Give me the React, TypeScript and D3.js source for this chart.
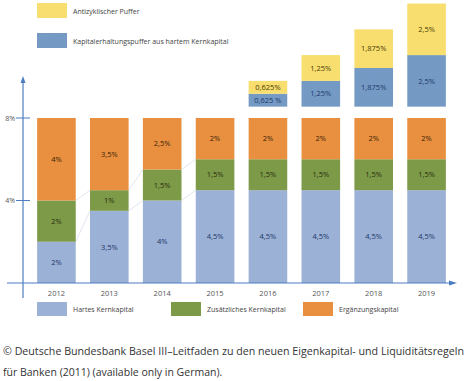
import React from "react";
import * as d3 from "d3";

const years = ["2012", "2013", "2014", "2015", "2016", "2017", "2018", "2019"];
const hartes = [2, 3.5, 4, 4.5, 4.5, 4.5, 4.5, 4.5];
const zusatz = [2, 1, 1.5, 1.5, 1.5, 1.5, 1.5, 1.5];
const ergaenzung = [4, 3.5, 2.5, 2, 2, 2, 2, 2];
const erhaltung = [0, 0, 0, 0, 0.625, 1.25, 1.875, 2.5];
const antizyklisch = [0, 0, 0, 0, 0.625, 1.25, 1.875, 2.5];
const hartesLabels = ["2%", "3,5%", "4%", "4,5%", "4,5%", "4,5%", "4,5%", "4,5%"];
const zusatzLabels = ["2%", "1%", "1,5%", "1,5%", "1,5%", "1,5%", "1,5%", "1,5%"];
const ergLabels = ["4%", "3,5%", "2,5%", "2%", "2%", "2%", "2%", "2%"];
const erhLabels = ["", "", "", "", "0,625 %", "1,25%", "1,875%", "2,5%"];
const antiLabels = ["", "", "", "", "0,625%", "1,25%", "1,875%", "2,5%"];
const yTicks = [4, 8];
const bufferBase = 8.55;

const C = {
  blue: "#9bb1d6",
  green: "#7c9a48",
  orange: "#e8903f",
  yellow: "#f8de6e",
  hatch: "#769cc6",
  axis: "#4d7dc1",
  text: "#333",
};

export default function App() {
  const x = d3.scaleBand<string>().domain(years).range([30, 453]).paddingInner(0.27).paddingOuter(0.135);
  const y = d3.scaleLinear().domain([0, 8]).range([283, 118]);
  const bw = x.bandwidth();
  const font = "'Open Sans', sans-serif";

  const segs: any[] = [];
  years.forEach((yr, i) => {
    const a = hartes[i], b = zusatz[i], c = ergaenzung[i];
    segs.push({ yr, y0: 0, y1: a, fill: C.blue, label: hartesLabels[i], tc: "#1d3767" });
    segs.push({ yr, y0: a, y1: a + b, fill: C.green, label: zusatzLabels[i], tc: "#2a2a10" });
    segs.push({ yr, y0: a + b, y1: a + b + c, fill: C.orange, label: ergLabels[i], tc: "#3a2208" });
    if (erhaltung[i] > 0) {
      segs.push({ yr, y0: bufferBase, y1: bufferBase + erhaltung[i], fill: "url(#hatch)", label: erhLabels[i], tc: "#1d3767" });
      segs.push({ yr, y0: bufferBase + erhaltung[i], y1: bufferBase + erhaltung[i] + antizyklisch[i], fill: C.yellow, label: antiLabels[i], tc: "#4a3a08" });
    }
  });

  const connectors: any[] = [];
  for (let i = 0; i < years.length - 1; i++) {
    const lv = [hartes[i], hartes[i] + zusatz[i]];
    const rv = [hartes[i + 1], hartes[i + 1] + zusatz[i + 1]];
    lv.forEach((v, k) => {
      if (v !== rv[k]) {
        connectors.push({ x1: x(years[i])! + bw, y1: y(v), x2: x(years[i + 1])!, y2: y(rv[k]) });
      }
    });
  }

  const topLegend = [
    { label: "Antizyklischer Puffer", fill: C.yellow, y: 3 },
    { label: "Kapitalerhaltungspuffer aus hartem Kernkapital", fill: "url(#hatch)", y: 33 },
  ];
  const bottomLegend = [
    { label: "Hartes Kernkapital", fill: C.blue, x: 37 },
    { label: "Zusätzliches Kernkapital", fill: C.green, x: 171 },
    { label: "Ergänzungskapital", fill: C.orange, x: 303 },
  ];

  return (
    <svg width={466} height={381} style={{ position: "absolute", left: 0, top: 0, background: "#fff" }}>
      <defs>
        <pattern id="hatch" patternUnits="userSpaceOnUse" width="2.5" height="2.5" patternTransform="rotate(45)">
          <rect width="2.5" height="2.5" fill={C.hatch} />
          <line x1="0" y1="0" x2="0" y2="2.5" stroke="#6a90bc" strokeWidth="0.8" />
        </pattern>
      </defs>
      {topLegend.map((l) => (
        <g key={l.label}>
          <rect x={37} y={l.y} width={30} height={15} fill={l.fill} />
          <text x={73} y={l.y + 10.5} fontSize={7} fill="#444" fontFamily={font}>{l.label}</text>
        </g>
      ))}
      {connectors.map((c, i) => (
        <line key={i} x1={c.x1} y1={c.y1} x2={c.x2} y2={c.y2} stroke="#d8dfea" strokeWidth={0.8} />
      ))}
      {segs.map((s, i) => (
        <g key={i}>
          <rect x={x(s.yr)} y={y(s.y1)} width={bw} height={y(s.y0) - y(s.y1)} fill={s.fill} />
          <text x={x(s.yr)! + bw / 2} y={(y(s.y0) + y(s.y1)) / 2 + 2.7} textAnchor="middle" fontSize={7.5} fill={s.tc} fontFamily={font}>{s.label}</text>
        </g>
      ))}
      <line x1={23} y1={80} x2={23} y2={298} stroke={C.axis} strokeWidth={1.2} />
      <path d="M23,76 L20.5,83 L25.5,83 Z" fill={C.axis} />
      <line x1={7} y1={y(0)} x2={450} y2={y(0)} stroke={C.axis} strokeWidth={1.2} />
      <path d="M457,283 L449,280.5 L449,285.5 Z" fill={C.axis} />
      {yTicks.map((t) => (
        <g key={t}>
          <line x1={16} x2={30} y1={y(t)} y2={y(t)} stroke={C.axis} strokeWidth={1} />
          <text x={15} y={y(t) + 2.5} textAnchor="end" fontSize={7} fill="#555" fontFamily={font}>{t}%</text>
        </g>
      ))}
      {years.map((yr) => (
        <text key={yr} x={x(yr)! + bw / 2} y={296} textAnchor="middle" fontSize={7.5} fill="#555" fontFamily={font}>{yr}</text>
      ))}
      {bottomLegend.map((l) => (
        <g key={l.label}>
          <rect x={l.x} y={302} width={30} height={14} fill={l.fill} />
          <text x={l.x + 36} y={312} fontSize={7} fill="#444" fontFamily={font}>{l.label}</text>
        </g>
      ))}
      <text x={3} y={355} fontSize={10.5} fill={C.text} fontFamily={font} textLength={461} lengthAdjust="spacingAndGlyphs">© Deutsche Bundesbank Basel III–Leitfaden zu den neuen Eigenkapital- und Liquiditätsregeln</text>
      <text x={3} y={376} fontSize={10.5} fill={C.text} fontFamily={font}>für Banken (2011) (available only in German).</text>
    </svg>
  );
}
